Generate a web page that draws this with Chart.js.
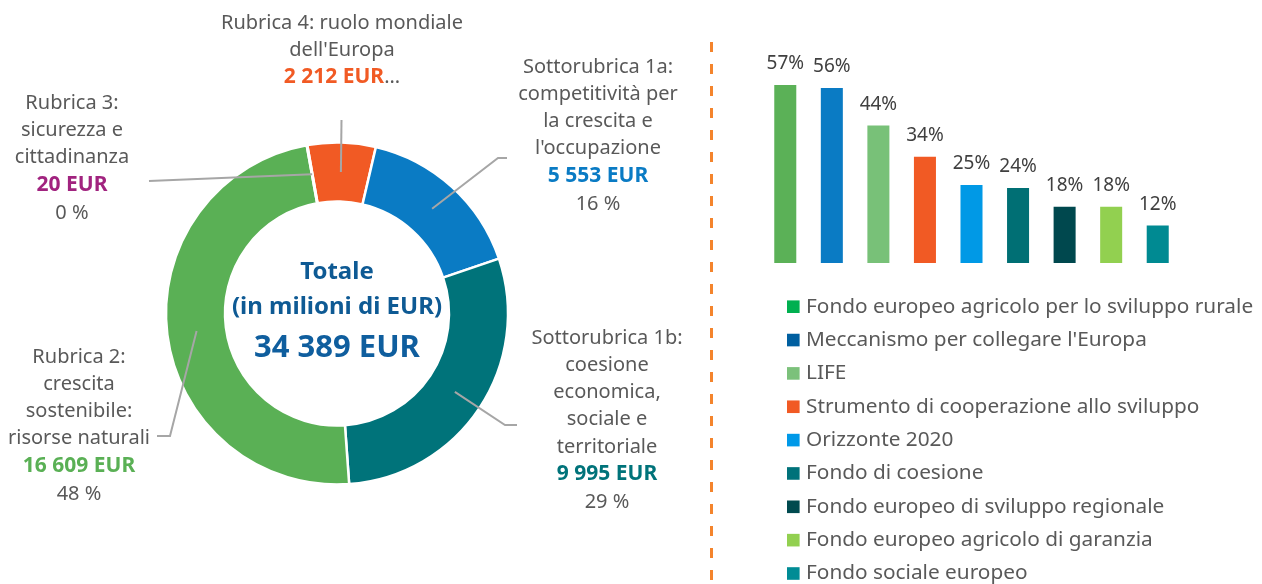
<!DOCTYPE html>
<html>
<head>
<meta charset="utf-8">
<script src="https://cdn.jsdelivr.net/npm/chart.js@4.4.1/dist/chart.umd.min.js"></script>
<style>
  html, body { margin: 0; padding: 0; background: #fff; }
  #wrap { position: relative; width: 1262px; height: 584px; overflow: hidden; }
  canvas { position: absolute; top: 0; }
  #donut { left: 0; }
  #bars { left: 720px; }
</style>
</head>
<body>
<div id="wrap">
  <canvas id="donut" width="720" height="584"></canvas>
  <canvas id="bars" width="542" height="584"></canvas>
</div>
<script>
// ripartizione per rubrica (milioni di EUR)
var headingLines = [
  ["Rubrica 4: ruolo mondiale", "dell'Europa"],
  ["Sottorubrica 1a:", "competitività per", "la crescita e", "l'occupazione"],
  ["Sottorubrica 1b:", "coesione", "economica,", "sociale e", "territoriale"],
  ["Rubrica 2:", "crescita", "sostenibile:", "risorse naturali"],
  ["Rubrica 3:", "sicurezza e", "cittadinanza"]
];
var headingValues = [2212, 5553, 9995, 16609, 20];
var headingColors = ["#F15A24", "#0A7BC4", "#00737A", "#5AB055", "#A1237F"];

// programmi principali, quota in %
var fundNames = [
  "Fondo europeo agricolo per lo sviluppo rurale",
  "Meccanismo per collegare l'Europa",
  "LIFE",
  "Strumento di cooperazione allo sviluppo",
  "Orizzonte 2020",
  "Fondo di coesione",
  "Fondo europeo di sviluppo regionale",
  "Fondo europeo agricolo di garanzia",
  "Fondo sociale europeo"
];
var fundShares = [57, 56, 44, 34, 25, 24, 18, 18, 12];
var fundColors = ["#5BB157", "#0A7BC4", "#78C178", "#F15A24", "#0099E6", "#006F74", "#00484E", "#92D050", "#008A92"];
var fundKeyColors = ["#00B050", "#005FA0", "#7CC17B", "#F15A24", "#0099E8", "#00727A", "#004A4F", "#92D050", "#008C95"];

var grey = "#595959";
var bodyFont = "'Noto Sans', 'DejaVu Sans', sans-serif";

function eur(v) {
  return String(v).replace(/\B(?=(\d{3})+(?!\d))/g, " ");
}

// where each callout sits; the leader starts on the slice itself
var calloutSpots = [
  { x: 342, y: 23, path: [[341.5, 120]], short: true },
  { x: 598, y: 67, path: [[498, 158], [507, 158]] },
  { x: 607, y: 338, path: [[505, 425], [517, 425]] },
  { x: 79, y: 357, path: [[170, 436], [157, 436]] },
  { x: 72, y: 103, path: [[149, 181]] }
];
var lineStep = 27.2;

var calloutPlugin = {
  id: "callouts",
  afterDraw: function(chart) {
    var ctx = chart.ctx;
    var arcs = chart.getDatasetMeta(0).data;
    var total = headingValues.reduce(function(a, b) { return a + b; }, 0);
    var light = "20px " + bodyFont, heavy = "bold 21px " + bodyFont;
    ctx.save();

    ctx.strokeStyle = "#A6A6A6";
    ctx.lineWidth = 2;
    arcs.forEach(function(arc, i) {
      var p = arc.getProps(["x", "y", "startAngle", "endAngle", "innerRadius", "outerRadius"], true);
      var mid = (p.startAngle + p.endAngle) / 2;
      var r = (p.innerRadius + p.outerRadius) / 2;
      ctx.beginPath();
      ctx.moveTo(p.x + Math.cos(mid) * r, p.y + Math.sin(mid) * r);
      calloutSpots[i].path.forEach(function(pt) { ctx.lineTo(pt[0], pt[1]); });
      ctx.stroke();
    });

    ctx.textAlign = "center";
    ctx.textBaseline = "middle";
    headingLines.forEach(function(lines, i) {
      var spot = calloutSpots[i];
      var y = spot.y;
      ctx.font = light;
      ctx.fillStyle = grey;
      lines.forEach(function(t) {
        ctx.fillText(t, spot.x, y);
        y += lineStep;
      });
      var val = eur(headingValues[i]) + " EUR";
      ctx.font = heavy;
      if (spot.short) {
        var w1 = ctx.measureText(val).width;
        ctx.font = light;
        var w2 = ctx.measureText("...").width;
        var left = spot.x - (w1 + w2) / 2;
        ctx.textAlign = "left";
        ctx.font = heavy;
        ctx.fillStyle = headingColors[i];
        ctx.fillText(val, left, y);
        ctx.font = light;
        ctx.fillStyle = grey;
        ctx.fillText("...", left + w1, y);
        ctx.textAlign = "center";
      } else {
        ctx.fillStyle = headingColors[i];
        ctx.fillText(val, spot.x, y);
        y += lineStep + 1;
        ctx.font = light;
        ctx.fillStyle = grey;
        ctx.fillText(Math.round(headingValues[i] / total * 100) + " %", spot.x, y);
      }
    });

    // centre
    var c = arcs[0];
    ctx.fillStyle = "#0E5A94";
    ctx.font = "bold 24px " + bodyFont;
    ctx.fillText("Totale", c.x, 272);
    ctx.fillText("(in milioni di EUR)", c.x, 307);
    ctx.fillStyle = "#0F5E9E";
    ctx.font = "bold 31px " + bodyFont;
    ctx.fillText(eur(total) + " EUR", c.x, 348);

    // divider
    ctx.strokeStyle = "#F4842C";
    ctx.lineWidth = 3;
    ctx.setLineDash([10, 12]);
    ctx.beginPath();
    ctx.moveTo(711.5, 42);
    ctx.lineTo(711.5, 584);
    ctx.stroke();
    ctx.restore();
  }
};

new Chart(document.getElementById("donut"), {
  type: "doughnut",
  data: {
    labels: headingLines.map(function(l) { return l.join(" "); }),
    datasets: [{
      data: headingValues,
      backgroundColor: headingColors,
      borderColor: "#fff",
      borderWidth: 2.5
    }]
  },
  options: {
    responsive: false,
    animation: false,
    rotation: -10,
    radius: 171,
    cutout: "65.5%",
    layout: { padding: { left: 100, right: 146, top: 60, bottom: 17 } },
    plugins: { legend: { display: false }, tooltip: { enabled: false } }
  },
  plugins: [calloutPlugin]
});

var barExtras = {
  id: "barExtras",
  afterDraw: function(chart) {
    var ctx = chart.ctx;
    ctx.save();
    ctx.textAlign = "center";
    ctx.textBaseline = "middle";
    ctx.font = "19px " + bodyFont;
    ctx.fillStyle = "#404040";
    chart.getDatasetMeta(0).data.forEach(function(bar, i) {
      ctx.fillText(fundShares[i] + "%", bar.x, bar.y - 21);
    });

    ctx.textAlign = "left";
    ctx.font = "20.8px " + bodyFont;
    fundNames.forEach(function(name, i) {
      var y = 306.7 + i * 33.35;
      ctx.fillStyle = fundKeyColors[i];
      ctx.fillRect(67, y - 6.3, 12.6, 12.6);
      ctx.fillStyle = grey;
      ctx.fillText(name, 86, y);
    });
    ctx.restore();
  }
};

new Chart(document.getElementById("bars"), {
  type: "bar",
  data: {
    labels: fundNames,
    datasets: [{
      data: fundShares,
      backgroundColor: fundColors,
      borderWidth: 0,
      barPercentage: 0.473,
      categoryPercentage: 1
    }]
  },
  options: {
    responsive: false,
    animation: false,
    layout: { padding: { left: 42, right: 81, top: 75.6, bottom: 321 } },
    scales: {
      x: { display: false },
      y: { display: false, min: 0, max: 60 }
    },
    plugins: { legend: { display: false }, tooltip: { enabled: false } }
  },
  plugins: [barExtras]
});
</script>
</body>
</html>
